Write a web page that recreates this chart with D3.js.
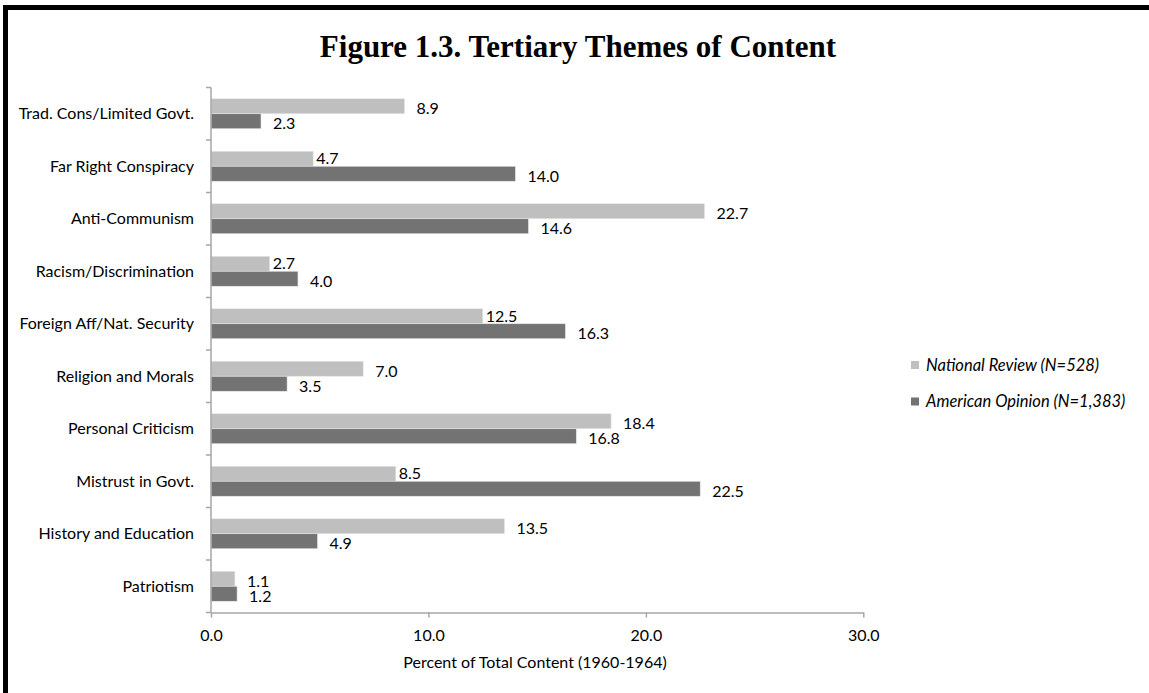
<!DOCTYPE html>
<html><head><meta charset="utf-8">
<script src="https://cdn.jsdelivr.net/npm/d3@7"></script>
<style>
body{margin:0;background:#fff;}
svg text{font-family:"Lato","Open Sans",sans-serif;}
</style></head>
<body><svg id="c" width="1149" height="693"></svg>
<script>
const categories = ["Trad. Cons/Limited Govt.","Far Right Conspiracy","Anti-Communism","Racism/Discrimination","Foreign Aff/Nat. Security","Religion and Morals","Personal Criticism","Mistrust in Govt.","History and Education","Patriotism"];
const seriesNames = ["National Review (N=528)","American Opinion (N=1,383)"];
const nationalReview = [8.9,4.7,22.7,2.7,12.5,7.0,18.4,8.5,13.5,1.1];
const americanOpinion = [2.3,14.0,14.6,4.0,16.3,3.5,16.8,22.5,4.9,1.2];
const xTicks = [0,10,20,30];
const colors = ["#bfbfbf","#737373"];

const svg = d3.select("#c");
// frame (top and left edges visible)
svg.append("rect").attr("x",3).attr("y",5).attr("width",1146).attr("height",5).attr("fill","#000");
svg.append("rect").attr("x",3).attr("y",5).attr("width",5).attr("height",688).attr("fill","#000");

svg.append("text").attr("x",578).attr("y",57).attr("text-anchor","middle")
  .style("font-family","'Liberation Serif','Times New Roman',serif").style("font-weight","bold").style("font-size","31px")
  .text("Figure 1.3. Tertiary Themes of Content");

const x = d3.scaleLinear().domain([0,30]).range([211,863.3]);
const y = d3.scaleBand().domain(categories).range([87.5,612.5]).paddingInner(0).paddingOuter(0);
const inner = d3.scaleBand().domain([0,1]).range([0,30]);
const offset = (y.bandwidth()-30)/2;

const g = svg.append("g");
const data = categories.map((c,i)=>({c, v:[nationalReview[i],americanOpinion[i]]}));
data.forEach(d=>{
  const top = y(d.c)+offset;
  const lightEnd = x(d.v[0]), darkEnd = x(d.v[1]);
  d.v.forEach((v,s)=>{
    const by = top+inner(s);
    g.append("rect").attr("x",x(0)).attr("y",by).attr("width",x(v)-x(0)).attr("height",inner.bandwidth())
      .attr("fill",colors[s]).attr("stroke","#e8e8e8").attr("stroke-width",0.6);
  });
  // light label: pulled in close and centred when the dark bar runs under it
  const blocked = darkEnd > lightEnd + 10;
  g.append("text").attr("x",lightEnd + (blocked?3:12)).attr("y",top+inner.bandwidth()/2+(blocked?0:2.5)).attr("dy","0.35em")
    .style("font-size","16px").attr("fill","#000").text(d.v[0].toFixed(1));
  g.append("text").attr("x",darkEnd + 12).attr("y",top+inner(1)+inner.bandwidth()/2+2.5).attr("dy","0.35em")
    .style("font-size","16px").attr("fill","#000").text(d.v[1].toFixed(1));
});

// y axis
const yAxis = svg.append("g").attr("transform","translate(211,0)");
yAxis.append("line").attr("x1",0).attr("x2",0).attr("y1",87.5).attr("y2",612.5).attr("stroke","#a6a6a6").attr("stroke-width",1.5);
const yt = categories.map(c=>y(c)).concat([612.5]);
yt.forEach(t=>yAxis.append("line").attr("x1",-5).attr("x2",0).attr("y1",t).attr("y2",t).attr("stroke","#a6a6a6").attr("stroke-width",1.5));
categories.forEach(c=>{
  svg.append("text").attr("x",194).attr("y",y(c)+y.bandwidth()/2).attr("dy","0.35em").attr("text-anchor","end")
    .style("font-size","16px").attr("fill","#000").text(c);
});

// x axis
const xAxis = svg.append("g").attr("transform","translate(0,612.5)")
  .call(d3.axisBottom(x).tickValues(xTicks).tickFormat(d3.format(".1f")).tickSizeInner(5).tickSizeOuter(0));
xAxis.select(".domain").attr("stroke","#a6a6a6").attr("stroke-width",1.5);
xAxis.selectAll(".tick line").attr("stroke","#a6a6a6").attr("stroke-width",1.5);
xAxis.selectAll(".tick text").style("font-size","16px").style("font-family","Lato, 'Open Sans', sans-serif").attr("fill","#000").attr("y",17);

svg.append("text").attr("x",535).attr("y",662).attr("dy","0.35em").attr("text-anchor","middle")
  .style("font-size","16px").attr("fill","#000").text("Percent of Total Content (1960-1964)");

// legend
const leg = svg.append("g");
seriesNames.forEach((n,i)=>{
  const ly = 365 + i*36.5;
  leg.append("rect").attr("x",911).attr("y",ly-4).attr("width",8).attr("height",8).attr("fill",colors[i]);
  leg.append("text").attr("x",926).attr("y",ly).attr("dy","0.35em").style("font-size","16.5px").style("font-style","italic").attr("fill","#000").text(n);
});
</script></body></html>
